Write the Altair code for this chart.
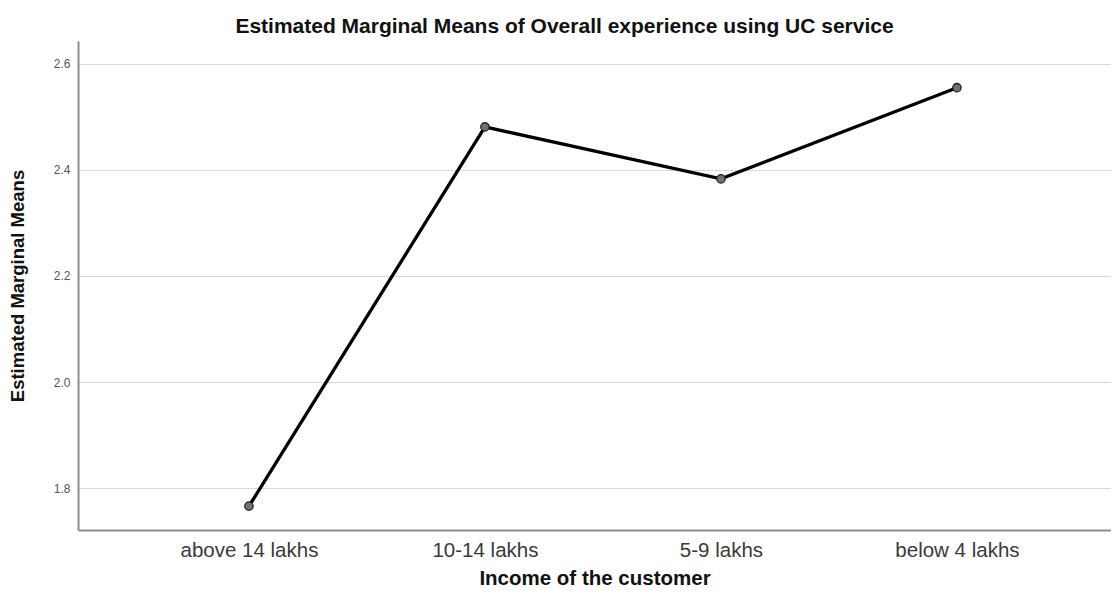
import altair as alt
import pandas as pd

categories = ["above 14 lakhs", "10-14 lakhs", "5-9 lakhs", "below 4 lakhs"]
means = [1.766, 2.481, 2.383, 2.555]
y_ticks = [1.8, 2.0, 2.2, 2.4, 2.6]

df = pd.DataFrame({"income": categories, "mean": means})

FONT = "Liberation Sans"

x = alt.X(
    "income:N",
    sort=categories,
    scale=alt.Scale(type="point", padding=0.6886, align=0.526),
    axis=alt.Axis(
        title="Income of the customer",
        labelAngle=0,
        labelFontSize=20.5,
        labelColor="#3a3a3a",
        labelFont=FONT,
        labelPadding=10,
        titleFont=FONT,
        titleFontSize=20.5,
        titleFontWeight="bold",
        titleColor="#111111",
        titlePadding=8,
        ticks=False,
        domainColor="#8c8c8c",
        domainWidth=2,
        grid=False,
    ),
)
y = alt.Y(
    "mean:Q",
    scale=alt.Scale(domain=[1.721, 2.643], nice=False, zero=False),
    axis=alt.Axis(
        title="Estimated Marginal Means",
        values=y_ticks,
        format=".1f",
        labelFontSize=12,
        labelColor="#555555",
        labelFont=FONT,
        labelPadding=8,
        titleFont=FONT,
        titleFontSize=18.5,
        titleFontWeight="bold",
        titleColor="#111111",
        titlePadding=26,
        ticks=False,
        domainColor="#8c8c8c",
        domainWidth=2,
        grid=True,
        gridColor="#cfcfcf",
        gridDash=[3, 1],
        gridWidth=1,
    ),
)

line = alt.Chart(df).mark_line(color="black", strokeWidth=3.3).encode(x=x, y=y)
pts = alt.Chart(df).mark_point(
    filled=True, fill="#707070", stroke="#222222", strokeWidth=1.3, size=70, opacity=1
).encode(x=x, y=y)

chart = (
    alt.layer(line, pts)
    .properties(
        width=1033,
        height=489,
        padding={"left": 70, "top": 33, "right": 0, "bottom": 61},
        autosize=alt.AutoSizeParams(type="none"),
        title=alt.TitleParams(
            "Estimated Marginal Means of Overall experience using UC service",
            font=FONT,
            fontSize=21,
            fontWeight="bold",
            color="#111111",
            anchor="middle",
            dx=-30,
            offset=4,
        ),
    )
    .configure_view(stroke=None)
)

chart.save("out.html", embed_options={"renderer": "svg", "actions": False})
